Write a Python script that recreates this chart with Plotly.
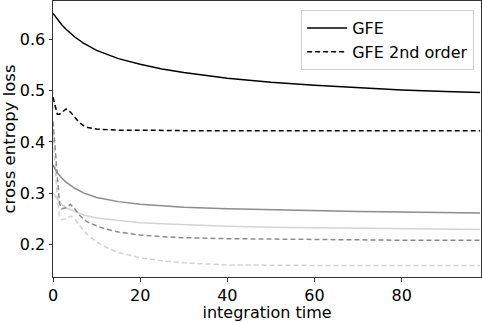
import plotly.graph_objects as go

# sample times (integration time) for each curve
t_gfe = [0, 1, 2, 3, 5, 7, 10, 15, 20, 25, 30, 40, 50, 60, 70, 80, 90, 98]
gfe_dark = [0.650, 0.638, 0.628, 0.619, 0.604, 0.592, 0.578, 0.562, 0.551, 0.542,
            0.535, 0.524, 0.516, 0.510, 0.505, 0.501, 0.498, 0.496]
gfe_mid = [0.355, 0.340, 0.330, 0.322, 0.310, 0.301, 0.292, 0.284, 0.279, 0.276,
           0.273, 0.270, 0.268, 0.266, 0.265, 0.264, 0.263, 0.262]
gfe_light = [0.300, 0.290, 0.279, 0.272, 0.265, 0.258, 0.252, 0.247, 0.243, 0.241,
             0.239, 0.236, 0.234, 0.233, 0.232, 0.231, 0.230, 0.230]

t_2nd = [0, 0.5, 1, 1.5, 2, 3, 4, 5, 6, 7, 8, 10, 12, 15, 20, 25, 30, 40, 60, 80, 98]
gfe2_dark = [0.487, 0.470, 0.454, 0.454, 0.457, 0.464, 0.458, 0.447, 0.438, 0.432,
             0.428, 0.425, 0.424, 0.423, 0.423, 0.422, 0.422, 0.422, 0.422, 0.422, 0.422]
gfe2_mid = [0.440, 0.380, 0.320, 0.280, 0.270, 0.272, 0.279, 0.270, 0.258, 0.250,
            0.244, 0.237, 0.231, 0.225, 0.219, 0.216, 0.214, 0.212, 0.210, 0.209, 0.209]
gfe2_light = [0.420, 0.350, 0.290, 0.255, 0.249, 0.251, 0.256, 0.250, 0.238, 0.228,
              0.219, 0.206, 0.196, 0.185, 0.175, 0.169, 0.165, 0.161, 0.160, 0.160, 0.160]

x_ticks = [0, 20, 40, 60, 80]
y_ticks = [0.2, 0.3, 0.4, 0.5, 0.6]

fig = go.Figure()

series = [
    (t_gfe, gfe_dark, "black", "solid", "GFE"),
    (t_2nd, gfe2_dark, "black", "dash", "GFE 2nd order"),
    (t_gfe, gfe_light, "#d3d3d3", "solid", None),
    (t_2nd, gfe2_light, "#d3d3d3", "dash", None),
    (t_gfe, gfe_mid, "#8c8c8c", "solid", None),
    (t_2nd, gfe2_mid, "#8c8c8c", "dash", None),
]
for xs, ys, col, dash, name in series:
    fig.add_trace(go.Scatter(
        x=xs, y=ys, mode='lines',
        line=dict(color=col, width=1.5, dash='5px,3px' if dash == 'dash' else 'solid'),
        name=name, showlegend=name is not None, hoverinfo='skip'
    ))

axis_style = dict(
    showgrid=False, zeroline=False, showline=True, linecolor='#333', linewidth=1,
    mirror=True, ticks='outside', ticklen=3.5, tickcolor='#333', automargin=False,
    tickfont=dict(size=16, color='black'),
)
fig.update_layout(
    width=482, height=322,
    paper_bgcolor='white', plot_bgcolor='white',
    font=dict(family='DejaVu Sans', color='black'),
    margin=dict(l=53, r=1, t=1, b=45),
    xaxis=dict(range=[0, 98.2], tickvals=x_ticks, ticklabelstandoff=0,
               title=dict(text='integration time', font=dict(size=16), standoff=3),
               **axis_style),
    yaxis=dict(range=[0.1375, 0.674], tickvals=y_ticks, ticktext=[str(v) for v in y_ticks],
               title=dict(text='cross entropy loss', font=dict(size=16.5), standoff=4),
               **axis_style),
    legend=dict(x=0.984, y=0.967, xanchor='right', yanchor='top',
                bgcolor='rgba(255,255,255,0.8)', bordercolor='#d0d0d0', borderwidth=1,
                font=dict(size=16), tracegroupgap=0, itemwidth=40),
)

# drop the default page margin so the figure sits at the window's corner
fig.write_html("out.html", config=dict(displayModeBar=False),
               post_script="document.body.style.margin='0';")
